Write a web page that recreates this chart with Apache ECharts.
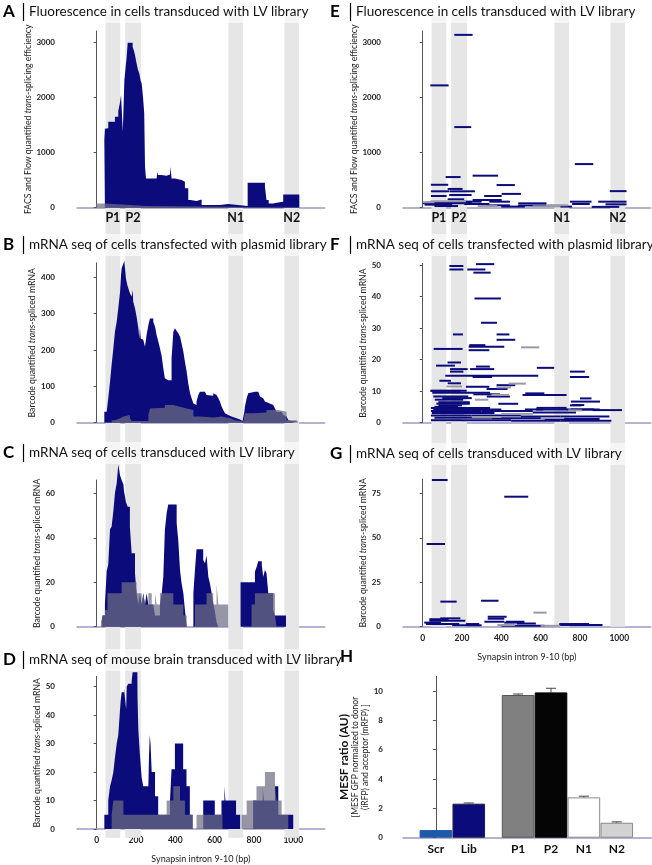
<!DOCTYPE html>
<html><head><meta charset="utf-8">
<script src="https://cdn.jsdelivr.net/npm/echarts@6/dist/echarts.min.js"></script>
<style>html,body{margin:0;padding:0;background:#fff}#c{width:652px;height:865px}</style>
</head><body><div id="c"></div>
<script>
// ---------------- DATA ----------------
const bandNames = ['P1', 'P2', 'N1', 'N2'];
const bandStart = [45, 145, 670, 955];
const bandEnd = [120, 225, 745, 1030];
const xTicks = [0, 200, 400, 600, 800, 1000];

// A: fluorescence (step profile, [bp, value])
const aNavy = [[39,1230],[42,1430],[50,1440],[59,1557],[93,1648],[110,1750],[118,1890],[124,2040],[133,1376],[141,2312],[146,2493],[152,2700],[158,2988],[183,2915],[190,2840],[195,2765],[203,2614],[210,2500],[217,2432],[224,2300],[229,2251],[234,2070],[238,1900],[242,1708],[246,740],[251,531],[305,531],[308,650],[312,590],[330,580],[356,600],[373,620],[376,742],[379,600],[381,530],[398,500],[432,470],[449,350],[466,139],[478,120],[508,150],[534,48],[627,66],[669,30],[768,452],[856,380],[864,139],[875,78],[898,90],[915,109],[949,241],[1031,0]];
const aGray = [[-3,75],[39,60],[130,30],[250,20],[500,15],[700,10],[760,20],[1031,0]];
const aTicks = [0, 1000, 2000, 3000];

// B: mRNA seq, plasmid library
const bNavy = [[39,30],[51,30],[59,67],[68,113],[76,159],[85,205],[93,250],[102,278],[110,315],[119,360],[124,406],[127,425],[136,438],[141,445],[147,443],[149,397],[156,379],[161,370],[169,356],[178,347],[183,365],[186,333],[195,315],[203,292],[212,260],[217,232],[220,260],[224,232],[229,228],[237,223],[246,209],[254,241],[263,269],[271,287],[288,278],[297,264],[305,241],[314,223],[322,205],[331,182],[339,150],[347,122],[356,117],[364,122],[373,117],[381,177],[390,250],[398,260],[407,252],[415,246],[424,237],[432,218],[441,195],[449,168],[458,140],[466,108],[475,81],[483,67],[492,53],[500,49],[508,58],[517,76],[525,85],[551,81],[559,76],[568,74],[593,81],[602,76],[610,74],[619,67],[627,58],[636,44],[644,35],[653,26],[661,21],[669,17],[686,15],[695,12],[712,9],[729,5],[742,2],[751,30],[754,44],[763,67],[771,81],[780,85],[805,90],[814,85],[822,81],[831,72],[839,67],[847,62],[856,58],[864,53],[881,58],[890,49],[898,44],[907,39],[915,30],[941,26],[949,21],[958,17],[966,12],[975,7],[983,5],[992,3],[1025,0]];
const bGray = [[76,7],[93,12],[119,17],[136,21],[169,12],[178,5],[263,20],[271,39],[280,41],[347,49],[390,53],[398,44],[424,39],[458,35],[492,17],[525,14],[593,17],[636,12],[678,7],[703,3],[746,3],[754,26],[797,28],[864,35],[924,30],[966,7],[1017,3],[1025,0]];
const bTicks = [0, 100, 200, 300, 400];

// C: mRNA seq, LV library
const cNavy = [[25,2.5],[30,5],[42,10],[51,25],[59,28],[68,44],[76,45],[85,52],[93,60],[102,64.5],[110,73],[119,68],[127,66],[136,64],[139,61],[149,56],[158,54],[169,45],[178,33],[195,24],[203,15],[212,10],[220,15],[229,10],[237,15],[246,10],[254,15],[263,10],[288,10],[297,5],[322,10],[331,15],[339,22.5],[347,43.5],[356,51],[364,55],[407,46.5],[415,39],[424,25.5],[432,19.5],[441,15],[449,7.5],[458,0],[492,15],[500,25.5],[508,34.8],[542,30],[551,28.5],[559,32],[568,22.5],[576,19.5],[585,15],[593,10.5],[602,6.75],[610,2],[619,0],[732,20],[805,24.75],[814,27],[822,29.5],[840,27.75],[847,22.5],[856,25.5],[864,24],[873,15],[898,7.5],[907,5],[963,0]];
const cGray = [[25,2],[30,5],[42,7.5],[55,15],[127,20],[203,15],[229,10],[237,15],[246,10],[263,15],[280,10],[297,15],[305,10],[322,15],[390,10],[441,5],[458,0],[500,10],[559,15],[593,10],[610,19],[619,10],[669,0],[788,10],[805,15],[907,5],[915,0]];
const cTicks = [0, 20, 40, 60];

// D: mRNA seq, mouse brain
const dNavy = [[39,5],[59,10],[68,15],[76,17],[85,20],[93,25],[102,30],[110,33],[119,42],[122,45],[127,48],[139,49.5],[149,50],[150,42],[153,50],[161,51],[178,52],[183,55],[207,55],[208,46],[212,35],[220,26],[229,18],[237,15],[263,15],[266,25],[270,33],[274,30],[280,20],[297,11.5],[313,5],[373,10],[381,21],[398,30],[440,21],[457,15],[474,5],[488,0],[542,10],[601,5],[635,10],[650,15],[655,10],[709,5],[730,0],[796,10],[845,15],[850,10],[907,15],[924,5],[1000,0]];
const dGray = [[76,5],[85,10],[136,5],[356,10],[390,15],[424,10],[449,5],[488,0],[508,5],[640,0],[737,5],[763,10],[813,15],[856,20],[907,15],[915,10],[941,5],[975,0]];
const dTicks = [0, 10, 20, 30, 40, 50];

// E/F/G: individual fragments [startBp, endBp, value]
const eNavy = [[39,132,2215],[161,254,3130],[161,247,1460],[774,868,790],[254,384,580],[117,193,555],[42,130,415],[376,469,410],[952,1037,300],[127,203,340],[42,137,297],[139,266,297],[402,500,250],[42,122,212],[135,249,230],[313,402,212],[127,211,152],[254,402,139],[339,444,109],[0,211,80],[10,150,55],[486,630,79],[749,859,109],[760,850,67],[893,1037,109],[930,1037,61],[211,339,67],[322,444,43],[486,630,40],[140,250,100],[200,300,110],[60,180,30],[400,520,20],[700,760,20],[860,1000,15],[20,200,95]];
const eGray = [[0,60,100],[40,220,116],[630,740,45],[560,700,25],[280,380,30]];

const fNavy = [[136,207,49.7],[136,207,48.6],[271,364,50.3],[227,319,48.6],[258,346,47.6],[264,398,39.4],[297,378,31.7],[154,205,28],[376,441,28],[376,471,26.3],[237,319,24.6],[234,415,24.1],[56,203,23.4],[234,339,23],[127,195,19.1],[68,164,18.1],[581,669,17.4],[271,342,17.8],[139,229,17],[241,364,17],[749,825,16.2],[139,207,16.2],[115,588,14.9],[749,847,14.5],[254,353,14.5],[85,144,13.3],[127,195,12.5],[376,471,11.9],[220,339,11.4],[325,432,10.7],[39,192,10.1],[522,619,9.3],[508,732,8.8],[800,859,7.7],[754,902,6.7],[759,822,5.6],[576,737,4.2],[754,873,4.2],[864,1014,4.0],[42,224,10.1],[49,343,9.5],[258,393,9.0],[54,232,8.3],[326,444,8.3],[62,206,7.3],[70,240,6.0],[385,486,6.0],[80,200,5.5],[749,808,5.5],[42,343,4.7],[579,732,4.7],[54,400,4.2],[520,613,4.2],[732,901,4.2],[42,300,3.7],[300,560,3.7],[560,780,3.2],[47,365,3.1],[42,250,2.3],[250,500,2.3],[500,700,2.0],[700,950,2.0],[60,350,1.6],[350,620,1.4],[620,900,1.2],[42,200,0.8],[200,450,0.8],[450,700,0.6],[700,960,0.6],[80,240,6.5],[100,250,7.8],[60,180,5.0],[90,210,3.0]];
const fGray = [[500,593,23.9],[437,525,12.4],[375,450,11.2],[266,334,7.3],[350,440,8.8],[740,810,3.9],[250,400,1.8],[400,560,2.8],[600,720,1.5],[120,200,11.5]];
const fTicks = [0, 10, 20, 30, 40, 50];

const gNavy = [[47,127,82.5],[415,537,73.1],[20,114,46.5],[297,386,14.6],[90,173,14.1],[331,427,5.6],[90,192,4.7],[34,132,4.2],[331,415,4.5],[34,217,3.4],[314,415,2.8],[424,517,2.8],[8,93,2.3],[415,517,2.3],[480,576,1.8],[17,186,1.5],[220,288,1.5],[695,847,1.5],[695,915,0.9],[400,620,0.6],[150,300,0.8]];
const gGray = [[563,631,7.9],[380,470,0.9],[600,700,0.5]];
const gTicks = [0, 25, 50, 75];

// H: MESF ratio bars
const hNames = ['Scr', 'Lib', 'P1', 'P2', 'N1', 'N2'];
const hPos = [0, 1, 2.5, 3.5, 4.5, 5.5];
const hVals = [0.52, 2.32, 9.73, 9.91, 2.75, 1.02];
const hErr = [0, 0.05, 0.07, 0.28, 0.08, 0.06];
const hTicks = [0, 2, 4, 6, 8, 10];

// ---------------- STYLE ----------------
const FONT = "Lato, 'Liberation Sans', sans-serif";
const NAVY = '#0b0b7c';
const GRAYOV = 'rgba(110,110,132,0.72)';
const SEGGRAY = '#9a9aa6';
const BAND = '#e6e6e6';
const XCOL = '#9c9cc4';
const YCOL = '#555';
const hFill = ['#1f5aa8', '#0b0b7c', '#808080', '#050505', '#ffffff', '#d2d2d2'];
const hBorder = ['#1f5aa8', '#222244', '#555555', '#000000', '#8a8a8a', '#8a8a8a'];
const plain = v => String(v);

const L = 77, R = 403, W = 247.7;
const grids = [
  {left: L, top: 15, width: W, height: 822.7},     // 0 bands left
  {left: R, top: 15, width: W, height: 611.7},     // 1 bands right
  {left: L, top: 31, width: W, height: 176.7},     // 2 A
  {left: L, top: 262.8, width: W, height: 159.9},  // 3 B
  {left: L, top: 480, width: W, height: 146.7},    // 4 C
  {left: L, top: 676.5, width: W, height: 161.2},  // 5 D
  {left: R, top: 31, width: W, height: 176.7},     // 6 E
  {left: R, top: 263.5, width: W, height: 159.2},  // 7 F
  {left: R, top: 479.1, width: W, height: 147.6},  // 8 G
  {left: R, top: 676.4, width: 248.3, height: 161.3} // 9 H
];

const nameRich = {
  n: {fontSize: 8.7, fontFamily: FONT, color: '#222'},
  i: {fontSize: 8.7, fontFamily: FONT, fontStyle: 'italic', color: '#222'}
};
const facsName = '{n|FACS and Flow quantified }{i|trans}{n|-splicing efficiency}';
const bcName = '{n|Barcode quantified }{i|trans}{n|-spliced mRNA}';

function xAx(i, withLabels) {
  const ax = {gridIndex: i, type: 'value', min: -100, max: 1160, splitNumber: 6,
    axisLine: {show: true, lineStyle: {color: XCOL, width: 1.5}},
    axisTick: {show: false}, splitLine: {show: false},
    axisLabel: {show: false}};
  if (withLabels) {
    ax.axisLabel = {show: true, customValues: xTicks, formatter: plain, fontSize: 8.5, fontWeight: 'bold', color: '#222', fontFamily: FONT, margin: 7};
    ax.name = 'Synapsin intron 9-10 (bp)';
    ax.nameLocation = 'middle';
    ax.nameGap = 26;
    ax.nameTextStyle = {fontSize: 9, fontFamily: FONT, color: '#222'};
  }
  return ax;
}
function yAx(i, max, ticks, name, gap) {
  return {gridIndex: i, type: 'value', min: 0, max: max, offset: 7,
    axisLine: {show: true, lineStyle: {color: YCOL, width: 1}},
    axisTick: {show: true, length: 3, customValues: ticks, lineStyle: {color: YCOL}},
    axisLabel: {customValues: ticks, formatter: plain, fontSize: 8, fontWeight: 'bold', color: '#222', fontFamily: FONT, margin: 15},
    splitLine: {show: false},
    name: name, nameLocation: 'middle', nameRotate: 90, nameGap: gap,
    nameTextStyle: {rich: nameRich}};
}
const hiddenX = i => ({gridIndex: i, type: 'value', min: -100, max: 1160, show: false});
const hiddenY = i => ({gridIndex: i, type: 'value', min: 0, max: 1, show: false});

const xAxes = [hiddenX(0), hiddenX(1), xAx(2), xAx(3), xAx(4), xAx(5, true), xAx(6), xAx(7), xAx(8, true),
  {gridIndex: 9, type: 'value', min: -1, max: 6.55, axisLine: {show: true, lineStyle: {color: XCOL, width: 1.5}}, axisTick: {show: false}, axisLabel: {show: false}, splitLine: {show: false}}];
const hY = yAx(9, 11, hTicks, '{a|MESF ratio (AU)}\n{b|[MESF GFP normalized to donor}\n{b|(iRFP) and acceptor (mRFP) ]}', 6);
hY.offset = 13; hY.axisLabel.margin = 7;
hY.nameTextStyle = {rich: {
  a: {fontSize: 12, fontWeight: 'bold', fontFamily: FONT, color: '#111', lineHeight: 13},
  b: {fontSize: 8.5, fontFamily: FONT, color: '#222', lineHeight: 10}}};
const yAxes = [hiddenY(0), hiddenY(1),
  yAx(2, 3200, aTicks, facsName, 7), yAx(3, 440, bTicks, bcName, 20), yAx(4, 66, cTicks, bcName, 24), yAx(5, 53.5, dTicks, bcName, 24),
  yAx(6, 3200, aTicks, facsName, 7), yAx(7, 50.5, fTicks, bcName, 23), yAx(8, 83, gTicks, bcName, 24), hY];

function bandSeries(i) {
  return {type: 'line', xAxisIndex: i, yAxisIndex: i, data: [[-100, 0]], symbol: 'none', lineStyle: {opacity: 0}, z: 0, silent: true,
    markArea: {silent: true, itemStyle: {color: BAND}, data: bandNames.map((n, k) => [{xAxis: bandStart[k]}, {xAxis: bandEnd[k]}])}};
}
function bandLabels(i) {
  return {type: 'line', xAxisIndex: i, yAxisIndex: i, data: [[-100, 0]], symbol: 'none', lineStyle: {opacity: 0}, z: 1, silent: true,
    markArea: {silent: true, itemStyle: {color: 'rgba(0,0,0,0)'},
      label: {show: true, position: 'bottom', distance: 4, fontSize: 12.5, fontWeight: 'bold', color: '#111', fontFamily: FONT},
      data: bandNames.map((n, k) => [{name: n, xAxis: bandStart[k]}, {xAxis: bandEnd[k]}])}};
}
function area(i, data, color, z) {
  return {type: 'line', xAxisIndex: i, yAxisIndex: i, data: data, step: 'end', symbol: 'none', showSymbol: false,
    lineStyle: {width: 0, opacity: 0}, areaStyle: {color: color, opacity: 1}, clip: false, z: z, silent: true};
}
function segs(i, data, color, z) {
  return {type: 'custom', xAxisIndex: i, yAxisIndex: i, data: data, encode: {x: [0, 1], y: 2}, z: z, silent: true,
    renderItem: (p, api) => {
      const a = api.coord([api.value(0), api.value(2)]);
      const b = api.coord([api.value(1), api.value(2)]);
      return {type: 'line', shape: {x1: a[0], y1: a[1], x2: b[0], y2: b[1]}, style: {stroke: color, lineWidth: 2}};
    }};
}

const series = [
  bandSeries(0), bandSeries(1),
  area(2, aNavy, NAVY, 3), area(2, aGray, GRAYOV, 4), bandLabels(2),
  area(3, bNavy, NAVY, 3), area(3, bGray, GRAYOV, 4),
  area(4, cNavy, NAVY, 3), area(4, cGray, GRAYOV, 4),
  area(5, dNavy, NAVY, 3), area(5, dGray, GRAYOV, 4),
  segs(6, eNavy, NAVY, 3), segs(6, eGray, SEGGRAY, 4), bandLabels(6),
  segs(7, fNavy, NAVY, 3), segs(7, fGray, SEGGRAY, 4),
  segs(8, gNavy, NAVY, 3), segs(8, gGray, SEGGRAY, 4),
  {type: 'bar', xAxisIndex: 9, yAxisIndex: 9, barWidth: 32.6, z: 3,
    data: hNames.map((n, k) => ({name: n, value: [hPos[k], hVals[k]], itemStyle: {color: hFill[k], borderColor: hBorder[k], borderWidth: 1}})),
    label: {show: true, position: 'bottom', distance: 5, formatter: '{b}', fontSize: 12, fontWeight: 'bold', color: '#111', fontFamily: FONT}},
  {type: 'custom', xAxisIndex: 9, yAxisIndex: 9, z: 5, silent: true,
    data: hPos.map((x, k) => [x, hVals[k], hErr[k]]),
    encode: {x: 0, y: 1},
    renderItem: (p, api) => {
      if (!api.value(2)) return null;
      const a = api.coord([api.value(0), api.value(1)]);
      const b = api.coord([api.value(0), api.value(1) + api.value(2)]);
      return {type: 'group', children: [
        {type: 'line', shape: {x1: a[0], y1: a[1], x2: b[0], y2: b[1]}, style: {stroke: '#444', lineWidth: 1}},
        {type: 'line', shape: {x1: b[0] - 5, y1: b[1], x2: b[0] + 5, y2: b[1]}, style: {stroke: '#444', lineWidth: 1}}]};
    }}
];

// ---------------- TITLES ----------------
const titles = [
  ['A', 'Fluorescence in cells transduced with LV library', 0, 12],
  ['B', 'mRNA seq of cells transfected with plasmid library', 0, 245],
  ['C', 'mRNA seq of cells transduced with LV library', 0, 453],
  ['D', 'mRNA seq of mouse brain transduced with LV library', 0, 660],
  ['E', 'Fluorescence in cells transduced with LV library', 1, 12],
  ['F', 'mRNA seq of cells transfected with plasmid library', 1, 245],
  ['G', 'mRNA seq of cells transduced with LV library', 1, 454]
];
const graphic = [];
titles.forEach(([letter, text, col, y]) => {
  const ox = col ? 327 : 0;
  const right = col ? 652 : 326;
  graphic.push({type: 'rect', z: 100, shape: {x: ox + 27, y: y - 11, width: right - ox - 27, height: 22}, style: {fill: 'rgba(255,255,255,0.6)'}});
  graphic.push({type: 'text', z: 101, x: ox + 3, y: y, style: {text: letter, font: 'bold 17px ' + FONT, fill: '#000', verticalAlign: 'middle'}});
  graphic.push({type: 'line', z: 101, shape: {x1: ox + 23.5, y1: y - 9, x2: ox + 23.5, y2: y + 9}, style: {stroke: '#000', lineWidth: 1.2}});
  graphic.push({type: 'text', z: 101, x: ox + 29, y: y, style: {text: text, font: '13.5px ' + FONT, fill: '#111', verticalAlign: 'middle'}});
});
graphic.push({type: 'text', z: 101, x: 340, y: 657, style: {text: 'H', font: 'bold 17px ' + FONT, fill: '#000', verticalAlign: 'middle'}});

const chart = echarts.init(document.getElementById('c'), null, {renderer: 'canvas'});
chart.setOption({
  animation: false,
  backgroundColor: '#fff',
  grid: grids,
  xAxis: xAxes,
  yAxis: yAxes,
  series: series,
  graphic: graphic
});
</script></body></html>
